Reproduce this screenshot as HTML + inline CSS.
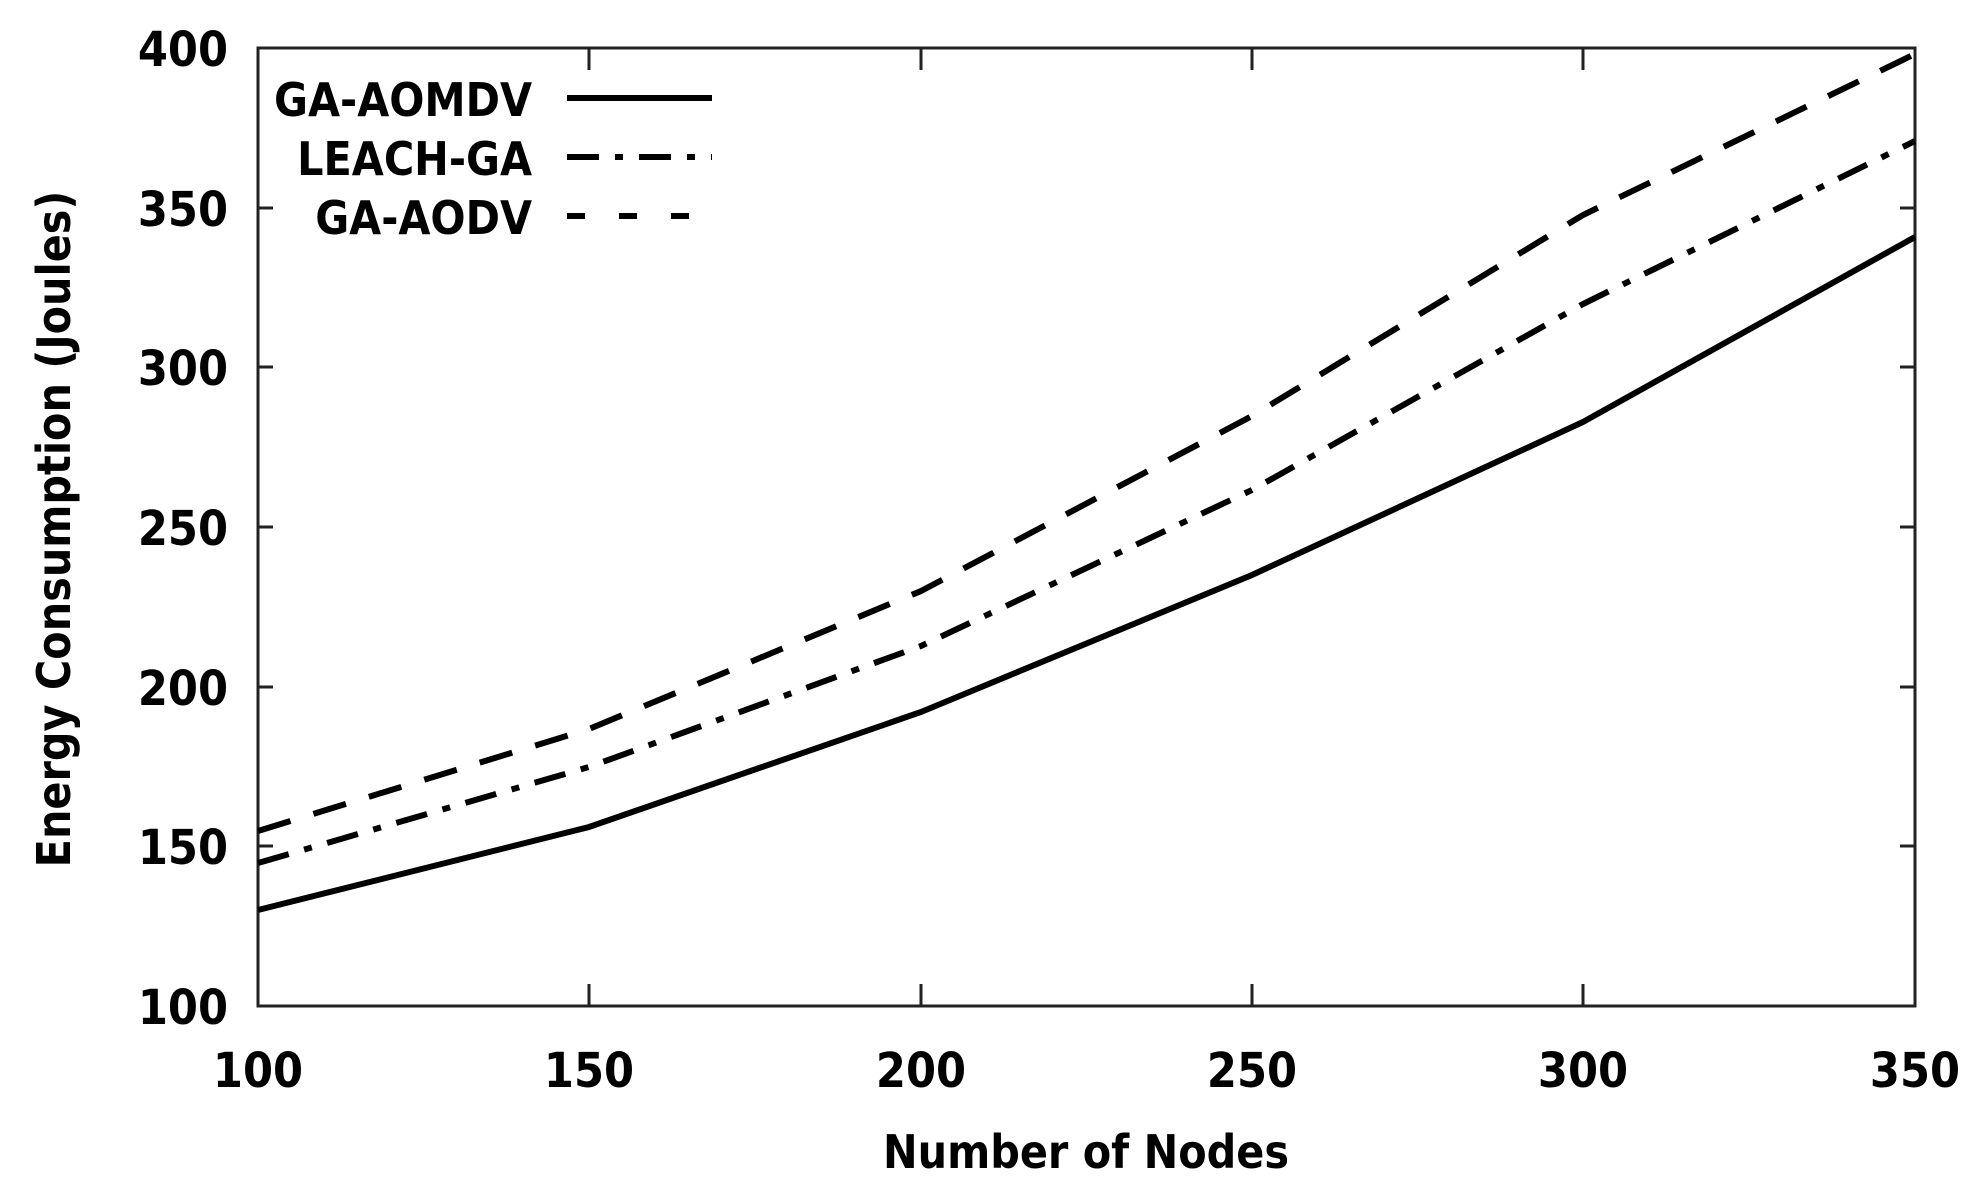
<!DOCTYPE html>
<html><head><meta charset="utf-8"><style>body{margin:0;background:#fff}svg{display:block}</style></head>
<body>
<svg width="1975" height="1192" viewBox="0 0 1975 1192" xmlns="http://www.w3.org/2000/svg" font-family="DejaVu Sans Condensed, DejaVu Sans, Liberation Sans, sans-serif" font-weight="bold" fill="#000">
<rect width="1975" height="1192" fill="#fff"/>
<g stroke="#222" stroke-width="3" fill="none">
<rect x="258" y="48" width="1657" height="958"/>
<path d="M258 208h15M258 367h15M258 527h15M258 687h15M258 846h15M1915 208h-15M1915 367h-15M1915 527h-15M1915 687h-15M1915 846h-15"/>
<path d="M589 1006v-22M921 1006v-22M1252 1006v-22M1583 1006v-22M589 48v22M921 48v22M1252 48v22M1583 48v22"/>
</g>
<g font-size="48" text-anchor="end">
<text x="228" y="66">400</text><text x="228" y="226">350</text><text x="228" y="385">300</text>
<text x="228" y="545">250</text><text x="228" y="705">200</text><text x="228" y="864">150</text><text x="228" y="1024">100</text>
</g>
<g font-size="48" text-anchor="middle">
<text x="258" y="1087">100</text><text x="589" y="1087">150</text><text x="921" y="1087">200</text>
<text x="1252" y="1087">250</text><text x="1583" y="1087">300</text><text x="1915" y="1087">350</text>
<text x="1086" y="1168" font-size="46">Number of Nodes</text>
<text transform="translate(70,529) rotate(-90)" font-size="46">Energy Consumption (Joules)</text>
</g>
<g font-size="46" text-anchor="end">
<text x="532" y="116">GA-AOMDV</text><text x="532" y="175">LEACH-GA</text><text x="532" y="234">GA-AODV</text>
</g>
<g fill="none" stroke="#000" stroke-width="6">
<path d="M567 98H712"/>
<path d="M567 157H712" stroke-dasharray="32 16 8 16"/>
<path d="M567 216H712" stroke-dasharray="18 34"/>
<polyline points="258,910 589,827 921,712 1252,575 1583,422 1915,237"/>
<polyline points="258,863 589,767 921,646 1252,490 1583,304 1915,141" stroke-dasharray="32 16 8 16"/>
<polyline points="258,831 589,729 921,591 1252,416 1583,215 1915,54" stroke-dasharray="34 24"/>
</g>
</svg>
</body></html>
